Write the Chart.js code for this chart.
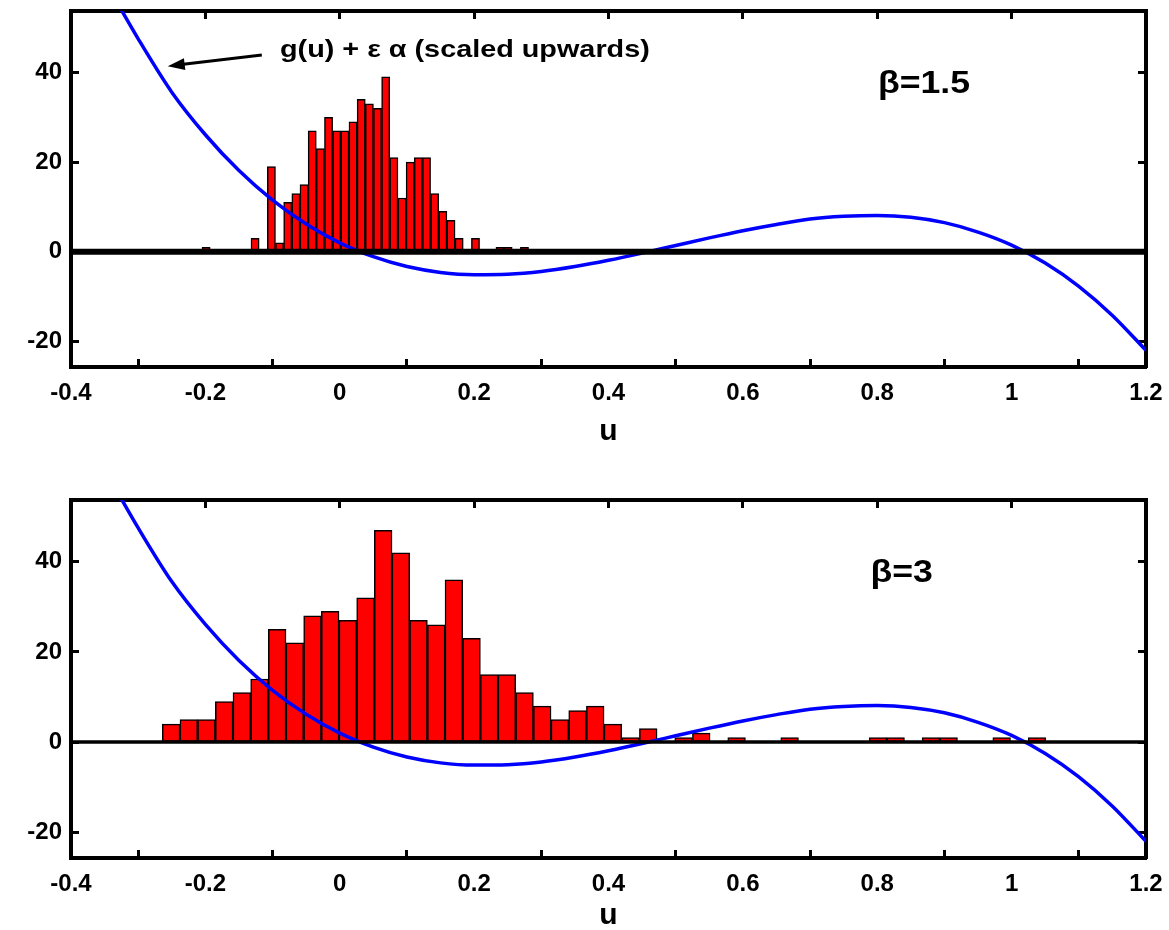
<!DOCTYPE html>
<html><head><meta charset="utf-8">
<script src="https://cdn.jsdelivr.net/npm/chart.js@4.4.1/dist/chart.umd.min.js"></script>
<style>
html,body{margin:0;padding:0;background:#fff;overflow:hidden;width:1169px;height:930px;}
#wrapTop{position:absolute;left:0;top:0;width:1169px;height:455px;}
#wrapBot{position:absolute;left:0;top:470px;width:1169px;height:470px;}
canvas{display:block;}
</style></head><body>
<div id="wrapTop"><canvas id="cTop" width="1169" height="455"></canvas></div>
<div id="wrapBot"><canvas id="cBot" width="1169" height="470"></canvas></div>
<script>
// ---- axis ticks / ranges ----
const xTicks = [-0.4, -0.2, 0, 0.2, 0.4, 0.6, 0.8, 1, 1.2];
const yTicks = [-20, 0, 20, 40];
const xRange = [-0.4, 1.2];
const yRange = [-25.7, 53.7];

// ---- top histogram (beta = 1.5) ----
const topBinStart = -0.205;
const topBinWidth = 0.01215;
const topCounts = [1,0,0,0,0,0,3,0,19,2,11,13,15,27,23,30,27,27,29,34,33,32,39,21,12,20,21,21,13,9,7,3,0,3,0,0,1,1,0,1];

// ---- bottom histogram (beta = 3) ----
const botBinStart = -0.2641;
const botBinWidth = 0.0263;
const botCounts = [4,5,5,9,11,14,25,22,28,29,27,32,47,42,27,26,36,23,15,15,11,8,5,7,8,4,1,3,0,1,2,0,1,0,0,1,0,0,0,0,1,1,0,1,1,0,0,1,0,1];

// ---- blue curve g(u) + eps*alpha ----
const curveU = [-0.35,-0.3,-0.25,-0.2,-0.15,-0.1,-0.05,0,0.05,0.1,0.15,0.2,0.25,0.3,0.35,0.4,0.45,0.5,0.55,0.6,0.65,0.7,0.75,0.8,0.85,0.9,0.95,1.0,1.05,1.1,1.15,1.2];
const curveY = [60.5,47.5,35.6,26.1,18.1,11.5,6.2,2.0,-1.1,-3.3,-4.6,-5.1,-5.0,-4.4,-3.3,-1.9,-0.3,1.4,3.1,4.7,6.1,7.3,7.9,8.1,7.7,6.5,4.4,1.5,-2.5,-7.7,-14.2,-22.0];

// ---- labels ----
const topBetaLabel = 'β=1.5';
const botBetaLabel = 'β=3';
const curveNote = 'g(u) + ε α (scaled upwards)';
const xTitle = 'u';

const FONT = "'Liberation Sans', Arial, Helvetica, sans-serif";

const annotPlugin = {
  id: 'annot',
  afterDraw(chart, args, opts) {
    const ctx = chart.ctx, xs = chart.scales.x, ys = chart.scales.y;
    (opts.arrows || []).forEach(a => {
      const x1 = xs.getPixelForValue(a.from[0]), y1 = ys.getPixelForValue(a.from[1]);
      const x2 = xs.getPixelForValue(a.to[0]), y2 = ys.getPixelForValue(a.to[1]);
      const ang = Math.atan2(y2 - y1, x2 - x1);
      const hl = 17, hw = 6;
      ctx.save();
      ctx.strokeStyle = '#000'; ctx.fillStyle = '#000'; ctx.lineWidth = 3;
      ctx.beginPath();
      ctx.moveTo(x1, y1);
      ctx.lineTo(x2 - Math.cos(ang) * hl * 0.8, y2 - Math.sin(ang) * hl * 0.8);
      ctx.stroke();
      ctx.beginPath();
      ctx.moveTo(x2, y2);
      ctx.lineTo(x2 - Math.cos(ang) * hl - Math.sin(ang) * hw, y2 - Math.sin(ang) * hl + Math.cos(ang) * hw);
      ctx.lineTo(x2 - Math.cos(ang) * hl + Math.sin(ang) * hw, y2 - Math.sin(ang) * hl - Math.cos(ang) * hw);
      ctx.closePath();
      ctx.fill();
      ctx.restore();
    });
    (opts.texts || []).forEach(t => {
      ctx.save();
      ctx.font = t.font;
      ctx.fillStyle = '#000';
      ctx.textBaseline = 'middle';
      ctx.textAlign = 'left';
      ctx.translate(xs.getPixelForValue(t.x), ys.getPixelForValue(t.y));
      ctx.scale(t.sx || 1, 1);
      ctx.fillText(t.text, 0, 0);
      ctx.restore();
    });
  }
};

function tickFont() { return { family: FONT, size: 24, weight: 'bold' }; }

function zeroPad(s) { s.paddingTop = 0; s.paddingBottom = 0; s.paddingLeft = 0; s.paddingRight = 0; }

function makeScales(xHeight) {
  const setX = s => { s.ticks = xTicks.map(v => ({ value: v })); };
  const setY = s => { s.ticks = yTicks.map(v => ({ value: v })); };
  const gridOpts = { drawOnChartArea: false, drawTicks: true, tickLength: -8, tickWidth: 3, tickColor: '#000' };
  const borderOpts = { display: true, color: '#000', width: 4 };
  return {
    x: {
      type: 'linear', position: 'bottom', min: xRange[0], max: xRange[1], offset: false,
      afterBuildTicks: setX,
      afterFit: s => { s.height = xHeight; zeroPad(s); },
      ticks: { font: tickFont(), color: '#000', padding: 20, maxRotation: 0, autoSkip: false, callback: v => String(v) },
      grid: gridOpts, border: borderOpts,
      title: { display: true, text: xTitle, color: '#000', padding: 0, font: { family: FONT, size: 30, weight: 'bold' } }
    },
    x2: {
      type: 'linear', position: 'top', min: xRange[0], max: xRange[1], offset: false,
      afterBuildTicks: setX,
      afterFit: s => { s.height = 0; zeroPad(s); },
      ticks: { display: false },
      grid: gridOpts, border: borderOpts
    },
    y: {
      type: 'linear', position: 'left', min: yRange[0], max: yRange[1],
      afterBuildTicks: setY,
      afterFit: s => { s.width = 71; zeroPad(s); },
      ticks: { font: tickFont(), color: '#000', padding: 17, callback: v => String(v) },
      grid: gridOpts, border: borderOpts
    },
    y2: {
      type: 'linear', position: 'right', min: yRange[0], max: yRange[1],
      afterBuildTicks: setY,
      afterFit: s => { s.width = 0; zeroPad(s); },
      ticks: { display: false },
      grid: gridOpts, border: borderOpts
    }
  };
}

function makeChart(canvasId, counts, binStart, binWidth, zeroWidth, padTop, padBottom, xHeight, annot) {
  const bars = counts.map((c, i) => ({ x: binStart + binWidth * (i + 0.5), y: c }));
  const curve = curveU.map((u, i) => ({ x: u, y: curveY[i] }));
  const zero = [{ x: xRange[0], y: 0 }, { x: xRange[1], y: 0 }];
  return new Chart(document.getElementById(canvasId), {
    type: 'line',
    data: {
      datasets: [
        { type: 'line', data: zero, borderColor: '#000', borderWidth: zeroWidth, pointRadius: 0, fill: false, order: 1, xAxisID: 'x', yAxisID: 'y' },
        { type: 'line', data: curve, borderColor: '#0000ff', borderWidth: 3.5, pointRadius: 0, fill: false, cubicInterpolationMode: 'monotone', clip: 0, order: 2, xAxisID: 'x', yAxisID: 'y' },
        { type: 'bar', data: bars, backgroundColor: '#ff0000', borderColor: '#000', borderWidth: 1.5, borderSkipped: false, barPercentage: 1, categoryPercentage: 1, order: 3, xAxisID: 'x', yAxisID: 'y' }
      ]
    },
    options: {
      responsive: false, animation: false, devicePixelRatio: 1,
      layout: { padding: { left: 0, right: 23, top: padTop, bottom: padBottom } },
      plugins: { legend: { display: false }, tooltip: { enabled: false }, annot: annot },
      scales: makeScales(xHeight)
    },
    plugins: [annotPlugin]
  });
}

makeChart('cTop', topCounts, topBinStart, topBinWidth, 6, 11, 5, 83, {
  texts: [
    { text: topBetaLabel, x: 0.801, y: 37.4, font: "bold 31px " + FONT, sx: 1.15 },
    { text: curveNote, x: -0.089, y: 45.0, font: "bold 24px " + FONT, sx: 1.2 }
  ],
  arrows: [ { from: [-0.116, 43.9], to: [-0.256, 41.4] } ]
});

makeChart('cBot', botCounts, botBinStart, botBinWidth, 3.5, 30, 6, 76, {
  texts: [
    { text: botBetaLabel, x: 0.79, y: 37.3, font: "bold 31px " + FONT, sx: 1.15 }
  ]
});
</script>
</body></html>
